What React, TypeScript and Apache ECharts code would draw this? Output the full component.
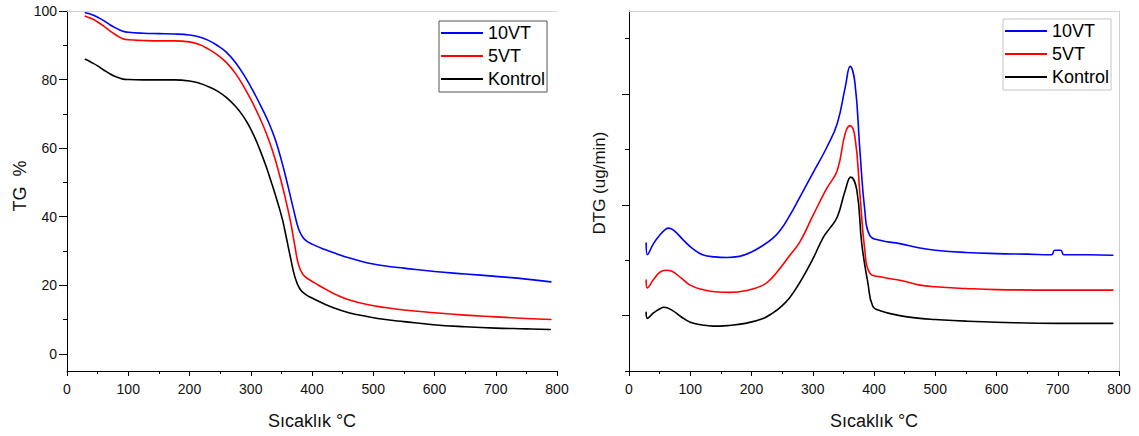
import React, { useEffect, useRef } from "react";
import * as echarts from "echarts";

// ---------- data ----------
const seriesNames = ["10VT", "5VT", "Kontrol"];
const seriesColors = ["#0000ff", "#ff0000", "#000000"];

const xTicks = [0, 100, 200, 300, 400, 500, 600, 700, 800];
const tgMajorTicks = [0, 20, 40, 60, 80, 100];
const tgMinorTicks = [10, 30, 50, 70, 90];
const dtgMajorTicks = [1, 3, 5];
const dtgMinorTicks = [0, 2, 4, 6];

const tg10VT: [number, number][] = [
  [30, 99.5], [40, 99.0], [50, 98.2], [60, 97.2], [70, 96.0], [80, 95.0], [90, 94.2], [100, 93.8],
  [125, 93.5], [150, 93.4], [175, 93.3], [200, 93.0], [215, 92.5], [230, 91.5], [245, 90.0],
  [260, 88.0], [275, 85.0], [290, 81.0], [305, 76.3], [320, 71.0], [330, 67.2], [340, 62.5],
  [350, 56.5], [360, 49.5], [370, 42.0], [378, 36.5], [385, 34.0], [392, 32.8], [400, 32.0],
  [420, 30.5], [440, 29.2], [460, 28.0], [480, 27.0], [500, 26.2], [525, 25.5], [550, 25.0],
  [600, 24.0], [650, 23.3], [700, 22.6], [750, 21.8], [790, 21.0],
];
const tg5VT: [number, number][] = [
  [30, 98.5], [40, 97.8], [50, 96.8], [60, 95.6], [70, 94.2], [80, 93.0], [90, 92.0], [100, 91.6],
  [125, 91.4], [150, 91.3], [175, 91.3], [200, 91.0], [215, 90.3], [230, 89.0], [245, 87.3],
  [260, 85.0], [275, 81.8], [290, 77.5], [305, 72.5], [315, 68.7], [325, 64.5], [335, 59.5],
  [345, 53.5], [355, 46.5], [365, 38.5], [372, 31.5], [378, 26.0], [385, 23.2], [395, 21.7],
  [410, 20.1], [425, 18.6], [440, 17.2], [460, 15.8], [490, 14.4], [520, 13.5], [550, 12.8],
  [600, 12.0], [650, 11.3], [700, 10.8], [750, 10.3], [790, 10.0],
];
const tgKontrol: [number, number][] = [
  [30, 85.9], [40, 85.0], [50, 84.0], [60, 82.8], [70, 81.7], [80, 80.8], [90, 80.2], [100, 80.0],
  [125, 79.9], [150, 79.9], [175, 79.9], [200, 79.6], [215, 79.0], [230, 78.0], [245, 76.7],
  [260, 74.8], [275, 72.2], [285, 70.0], [295, 67.2], [305, 63.7], [315, 59.5], [325, 54.7],
  [335, 49.3], [345, 43.5], [352, 39.0], [358, 34.0], [365, 28.0], [372, 22.5], [380, 19.0],
  [390, 17.3], [400, 16.3], [415, 15.0], [434, 13.5], [460, 12.0], [490, 10.9], [520, 10.0],
  [550, 9.4], [598, 8.5], [650, 7.9], [700, 7.5], [750, 7.3], [789, 7.1],
];

const dtg10VT: [number, number][] = [
  [28, 2.31], [30, 2.1], [40, 2.3], [50, 2.45], [60, 2.56], [65, 2.58], [75, 2.52], [90, 2.35],
  [105, 2.2], [120, 2.1], [140, 2.06], [160, 2.05], [180, 2.07], [200, 2.15], [219, 2.27],
  [235, 2.4], [247, 2.54], [262, 2.8], [279, 3.14], [300, 3.57], [323, 4.04], [340, 4.47],
  [353, 5.12], [361, 5.5], [369, 5.19], [377, 3.98], [385, 2.9], [393, 2.45], [410, 2.36],
  [442, 2.3], [475, 2.22], [500, 2.18], [550, 2.14], [600, 2.12], [650, 2.11], [690, 2.1],
  [695, 2.18], [705, 2.18], [710, 2.1], [750, 2.1], [790, 2.09],
];
const dtg5VT: [number, number][] = [
  [28, 1.64], [30, 1.5], [40, 1.65], [50, 1.78], [60, 1.82], [70, 1.8], [85, 1.68], [100, 1.55],
  [120, 1.47], [140, 1.43], [165, 1.42], [190, 1.45], [219, 1.55], [235, 1.7], [247, 1.86],
  [262, 2.08], [279, 2.33], [300, 2.8], [323, 3.3], [340, 3.62], [353, 4.29], [361, 4.43],
  [369, 4.22], [377, 3.2], [385, 2.18], [393, 1.77], [410, 1.7], [442, 1.64], [475, 1.55],
  [500, 1.52], [550, 1.49], [600, 1.47], [700, 1.46], [790, 1.46],
];
const dtgKontrol: [number, number][] = [
  [28, 1.06], [30, 0.95], [40, 1.05], [50, 1.12], [57, 1.15], [70, 1.1], [85, 0.98], [100, 0.88],
  [120, 0.83], [137, 0.81], [160, 0.82], [190, 0.86], [219, 0.95], [235, 1.05], [247, 1.15],
  [262, 1.32], [279, 1.6], [300, 2.02], [317, 2.41], [328, 2.58], [340, 2.78], [353, 3.26],
  [362, 3.5], [372, 3.26], [380, 2.3], [390, 1.59], [398, 1.17], [410, 1.09], [442, 1.0],
  [475, 0.95], [500, 0.93], [550, 0.9], [600, 0.88], [700, 0.86], [790, 0.86],
];

const tgData = [tg10VT, tg5VT, tgKontrol];
const dtgData = [dtg10VT, dtg5VT, dtgKontrol];

const FONT = "'Liberation Sans', Arial, sans-serif";

function xAxisMain(gridIndex: number) {
  return {
    type: "value",
    gridIndex,
    position: "bottom",
    min: 0,
    max: 800,
    interval: 100,
    axisLine: { show: true, onZero: false, lineStyle: { color: "#000", width: 1 } },
    axisTick: { show: true, length: 5, lineStyle: { color: "#000" } },
    minorTick: { show: true, splitNumber: 2, length: 3, lineStyle: { color: "#000" } },
    axisLabel: {
      fontSize: 14, color: "#111", margin: 11, fontFamily: FONT,
      customValues: xTicks,
    },
    splitLine: { show: false },
    name: "Sıcaklık °C",
    nameLocation: "middle",
    nameGap: 41,
    nameTextStyle: { fontSize: 18, color: "#111", fontFamily: FONT },
  };
}
function xAxisTop(gridIndex: number) {
  return {
    type: "value",
    gridIndex,
    position: "top",
    min: 0,
    max: 800,
    axisLine: { show: true, onZero: false, lineStyle: { color: "#d6d6d6", width: 1 } },
    axisTick: { show: false },
    axisLabel: { show: false },
    splitLine: { show: false },
  };
}

export default function App() {
  const ref = useRef<HTMLDivElement>(null);
  useEffect(() => {
    if (!ref.current) return;
    const chart = echarts.init(ref.current, undefined, { renderer: "svg" });
    const series: any[] = [];
    const mk = (name: string, i: number, data: [number, number][], axis: number) => ({
      type: "line",
      name,
      xAxisIndex: axis,
      yAxisIndex: axis,
      data,
      showSymbol: false,
      symbol: "none",
      smooth: 0.45,
      color: seriesColors[i],
      lineStyle: { color: seriesColors[i], width: 1.6, join: "round", cap: "round" },
    });
    seriesNames.forEach((name, i) => series.push(mk(name, i, tgData[i], 0)));
    seriesNames.forEach((name, i) => series.push(mk(name, i, dtgData[i], 2)));
    const legendBase = {
      data: seriesNames,
      orient: "vertical",
      icon: "rect",
      itemWidth: 42,
      itemHeight: 2,
      itemGap: 5,
      padding: [3, 2, 4, 2],
      borderWidth: 1,
      backgroundColor: "#fff",
      selectedMode: false,
      textStyle: { fontSize: 18, color: "#000", fontFamily: FONT, lineHeight: 18 },
    };
    chart.setOption({
      animation: false,
      textStyle: { fontFamily: FONT },
      grid: [
        { left: 67, top: 11, width: 490, height: 360 },
        { left: 629, top: 11, width: 490, height: 360 },
      ],
      xAxis: [xAxisMain(0), xAxisTop(0), xAxisMain(1), xAxisTop(1)],
      yAxis: [
        {
          type: "value",
          gridIndex: 0,
          position: "left",
          min: -5,
          max: 100,
          axisLine: { show: true, onZero: false, lineStyle: { color: "#000" } },
          axisTick: { show: true, length: 8, customValues: tgMajorTicks, lineStyle: { color: "#000" } },
          axisLabel: { show: true, customValues: tgMajorTicks, fontSize: 14, color: "#111", margin: 10, fontFamily: FONT },
          splitLine: { show: false },
          name: "TG  %",
          nameLocation: "middle",
          nameGap: 38,
          nameTextStyle: { fontSize: 18, color: "#111", fontFamily: FONT, padding: [0, 0, 0, 10] },
        },
        {
          type: "value",
          gridIndex: 0,
          position: "left",
          min: -5,
          max: 100,
          axisLine: { show: false },
          axisTick: { show: true, length: 4, customValues: tgMinorTicks, lineStyle: { color: "#000" } },
          axisLabel: { show: false },
          splitLine: { show: false },
        },
        {
          type: "value",
          gridIndex: 1,
          position: "left",
          min: 0,
          max: 6.5,
          axisLine: { show: true, onZero: false, lineStyle: { color: "#000" } },
          axisTick: { show: true, length: 7, customValues: dtgMajorTicks, lineStyle: { color: "#000" } },
          axisLabel: { show: false },
          splitLine: { show: false },
          name: "DTG (ug/min)",
          nameLocation: "middle",
          nameGap: 21,
          nameTextStyle: { fontSize: 17, color: "#111", fontFamily: FONT, padding: [0, 0, 0, 16] },
        },
        {
          type: "value",
          gridIndex: 1,
          position: "left",
          min: 0,
          max: 6.5,
          axisLine: { show: false },
          axisTick: { show: true, length: 4, customValues: dtgMinorTicks, lineStyle: { color: "#000" } },
          axisLabel: { show: false },
          splitLine: { show: false },
        },
        {
          type: "value",
          gridIndex: 1,
          position: "right",
          min: 0,
          max: 6.5,
          axisLine: { show: true, onZero: false, lineStyle: { color: "#cfcfcf" } },
          axisTick: { show: false },
          axisLabel: { show: false },
          splitLine: { show: false },
        },
      ],
      legend: [
        { ...legendBase, left: 439, top: 21, borderColor: "#555" },
        { ...legendBase, left: 1003, top: 19, borderColor: "#c4c4c4" },
      ],
      series,
    });
    return () => chart.dispose();
  }, []);
  return (
    <div
      ref={ref}
      style={{ position: "absolute", left: 0, top: 0, width: 1139, height: 436, background: "#fff" }}
    />
  );
}
